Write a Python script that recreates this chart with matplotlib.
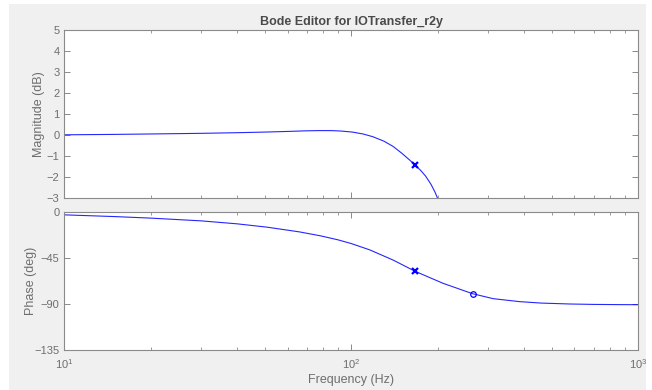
import matplotlib
matplotlib.use("Agg")
import matplotlib.pyplot as plt
from matplotlib.patches import Rectangle
from matplotlib.ticker import FixedLocator, NullFormatter, LogLocator

plt.rcParams['font.family'] = ['Liberation Sans', 'DejaVu Sans']

title = "Bode Editor for IOTransfer_r2y"

# Magnitude response (Hz, dB)
mag_freq = [10, 15, 20, 30, 40, 50, 60, 70, 78, 85, 92, 101, 110, 119, 130, 140, 150, 160, 167, 175, 182, 190, 196, 200]
mag_db = [0.0, 0.02, 0.04, 0.07, 0.10, 0.13, 0.16, 0.19, 0.20, 0.20, 0.18, 0.13, 0.04, -0.09, -0.30, -0.55, -0.87, -1.20, -1.43, -1.70, -1.97, -2.36, -2.72, -3.0]

# Phase response (Hz, deg)
ph_freq = [10, 15, 20, 30, 40, 51, 66, 78, 90, 100, 116, 140, 167, 209, 265, 313, 387, 460, 578, 700, 850, 1000]
ph_deg = [-2.5, -4.2, -5.7, -8.4, -11.3, -14.6, -19.2, -23.0, -27.0, -30.6, -36.8, -46.8, -57.8, -69.6, -79.8, -84.7, -87.6, -89.0, -89.9, -90.3, -90.5, -90.6]

# Markers
mag_x_marker = (167, -1.43)
ph_x_marker = (167, -57.8)
ph_o_marker = (265, -79.8)

mag_ylim = (-3, 5)
mag_yticks = [-3, -2, -1, 0, 1, 2, 3, 4, 5]
ph_ylim = (-135, 0)
ph_yticks = [-135, -90, -45, 0]
xlim = (10, 1000)

W, H = 652, 390
fig = plt.figure(figsize=(W / 100, H / 100), dpi=100)
fig.patch.set_facecolor('white')
fig.patches.append(Rectangle((9 / W, 0), (646 - 9) / W, (390 - 4) / H,
                             transform=fig.transFigure, facecolor='#f0f0f0',
                             edgecolor='none', zorder=-10))

L, R = 64.3, 638
ax1 = fig.add_axes([L / W, 1 - 198 / H, (R - L) / W, (198 - 29.5) / H])
ax2 = fig.add_axes([L / W, 1 - 350 / H, (R - L) / W, (350 - 212.3) / H])

spine_c = '#8a8a8a'
text_c = '#6e6e6e'
line_c = '#0000ff'

for ax in (ax1, ax2):
    ax.set_xscale('log')
    ax.set_xlim(*xlim)
    ax.set_facecolor('white')
    for s in ax.spines.values():
        s.set_color(spine_c)
        s.set_linewidth(0.8)
    ax.tick_params(which='both', direction='in', top=True, right=True,
                   colors=spine_c, labelcolor=text_c, labelsize=8)
    ax.tick_params(which='major', length=4, width=0.7)
    ax.tick_params(which='minor', length=2.5, width=0.6)
    ax.xaxis.set_major_locator(LogLocator(base=10))
    ax.xaxis.set_minor_locator(LogLocator(base=10, subs=range(2, 10)))
    ax.xaxis.set_minor_formatter(NullFormatter())

ax1.plot(mag_freq, mag_db, color=line_c, lw=0.8, alpha=0.85)
ax1.plot(*mag_x_marker, marker='x', color=line_c, ms=5, mew=1.6)
ax1.set_ylim(*mag_ylim)
ax1.yaxis.set_major_locator(FixedLocator(mag_yticks))
ax1.tick_params(which='both', labelbottom=False)
ax1.set_ylabel('Magnitude (dB)', color=text_c, fontsize=9, labelpad=1)
ax1.set_title(title, color='#4a4a4a', fontsize=9, fontweight='bold', pad=3)

ax2.plot(ph_freq, ph_deg, color=line_c, lw=0.8, alpha=0.85)
ax2.plot(*ph_x_marker, marker='x', color=line_c, ms=5, mew=1.6)
ax2.plot(*ph_o_marker, marker='o', color=line_c, ms=4, mew=0.9, mfc='none')
ax2.set_ylim(*ph_ylim)
ax2.yaxis.set_major_locator(FixedLocator(ph_yticks))
ax2.set_xlabel('Frequency (Hz)', color=text_c, fontsize=9, labelpad=2)
ax2.set_ylabel('Phase (deg)', color=text_c, fontsize=9, labelpad=-2)
ax2.tick_params(axis='x', pad=5)

fig.savefig('out.png', dpi=100, facecolor=fig.get_facecolor())
